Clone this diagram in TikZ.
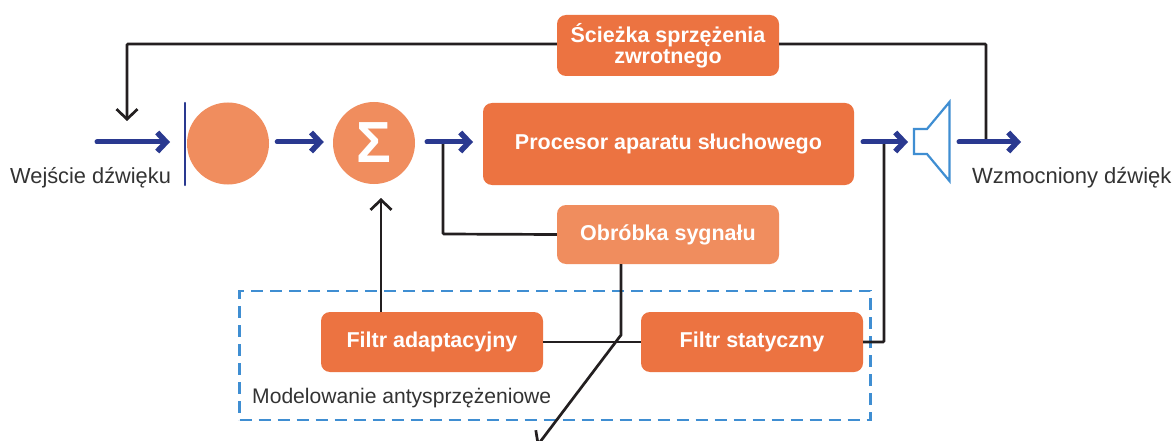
\documentclass[tikz,border=0pt]{standalone}
\usepackage{fontspec}
\setmainfont{Liberation Sans}
\usetikzlibrary{arrows.meta,calc}
\definecolor{boxor}{HTML}{EC7341}
\definecolor{lightor}{HTML}{F08D5E}
\definecolor{navy}{HTML}{2A3990}
\definecolor{dashblue}{HTML}{3F8ED2}
\definecolor{ink}{HTML}{231F20}
\definecolor{labelgrey}{HTML}{333333}
\tikzset{
  boxbase/.style={rounded corners=9pt,text=white,inner sep=0pt,align=center,font=\fontsize{21.5}{21}\selectfont\bfseries},
  orangebox/.style={boxbase,fill=boxor},
  lightbox/.style={boxbase,fill=lightor},
  roundnode/.style={circle,fill=lightor,minimum size=82pt,inner sep=0pt},
  caption/.style={text=labelgrey,inner sep=0pt},
  bluearrow/.style={draw=navy,line width=5pt,line cap=round,shorten <=2pt,-{Straight Barb[length=9pt,width=19pt,line width=5.5pt]}},
  blackline/.style={draw=ink,line width=2.7pt},
  blackarrow/.style={blackline,-{Straight Barb[length=10pt,width=21pt,line width=2.7pt]}},
}
\begin{document}
\begin{tikzpicture}[x=1pt,y=-1pt]
\clip (0,0) rectangle (1175,441);
\fill[white] (0,0) rectangle (1175,441);
% dashed frame
\node[draw=dashblue,line width=2.7pt,dash pattern=on 12pt off 7pt,minimum width=631pt,minimum height=129pt,inner sep=0pt] (frame) at (555,355.5) {};
% coordinates
\coordinate (inL) at (95,142);
\coordinate (inR) at (170,142);
\coordinate (fbDown) at (127,121);
\coordinate (fbTL) at (127,44);
\coordinate (fbTR) at (986,44);
\coordinate (fbJoin) at (986,141);
\coordinate (sumOut) at (425,142);
\coordinate (procIn) at (473,142);
\coordinate (procOut) at (861,142);
\coordinate (spkIn) at (908,142);
\coordinate (spkOut) at (957,142);
\coordinate (outEnd) at (1021,142);
\coordinate (tapA) at (443,142);
\coordinate (tapACorner) at (443,234);
\coordinate (tapB) at (884,142);
\coordinate (tapBCorner) at (884,342);
\coordinate (sumUp) at (381,198);
\coordinate (filtUp) at (381,312);
\coordinate (obrDown) at (621,264);
\coordinate (kink) at (621,335);
\coordinate (exit) at (537,446);
\coordinate (barTop) at (185,103);
\coordinate (barBot) at (185,185);
% boxes
\node[orangebox,minimum width=222pt,minimum height=61pt] (path) at (668,45.5) {Ścieżka sprzężenia\\zwrotnego};
\node[orangebox,minimum width=371pt,minimum height=82pt] (proc) at (668.5,144) {Procesor aparatu słuchowego};
\node[lightbox,minimum width=222pt,minimum height=59pt] (obr) at (668,234.5) {Obróbka sygnału};
\node[orangebox,minimum width=222pt,minimum height=60pt] (fa) at (432,342) {Filtr adaptacyjny};
\node[orangebox,minimum width=222pt,minimum height=60pt] (fs) at (752,342) {Filtr statyczny};
\node[roundnode] (mic) at (228,143.5) {};
\node[roundnode,text=white,font=\fontsize{58}{58}\selectfont\bfseries] (sum) at (374,143) {Σ};
% speaker
\draw[dashblue,line width=2.2pt,line join=miter] (914,129) -- (927,129) -- (949.5,102) -- (949.5,181) -- (927,154) -- (914,154) -- cycle;
% labels
\node[caption,anchor=west,font=\fontsize{21.8}{22}\selectfont] (lin) at (10,178) {Wejście dźwięku};
\node[caption,anchor=west,font=\fontsize{22}{22}\selectfont] (lout) at (972,178) {Wzmocniony dźwięk};
\node[caption,anchor=west,font=\fontsize{21.1}{22}\selectfont] (lmod) at (252,398) {Modelowanie antysprzężeniowe};
% black connectors
\draw[blackarrow,rounded corners=1pt] (path.west|-fbTL) -- (fbTL) -- (fbDown);
\draw[blackline,rounded corners=1pt] (path.east|-fbTR) -- (fbTR) -- (fbJoin);
\draw[blackline,rounded corners=1pt] (obr.west) -- (tapACorner) -- (tapA);
\draw[blackarrow] (filtUp) -- (sumUp);
\draw[blackline] (fa.east) -- (fs.west);
\draw[blackline,rounded corners=1pt] (fs.east) -- (tapBCorner) -- (tapB);
\draw[blackarrow] (obrDown) -- (kink) -- (exit);
% blue connectors
\draw[navy,line width=2.2pt,line cap=round] (barTop) -- (barBot);
\draw[bluearrow] (inL) -- (inR);
\draw[bluearrow,shorten <=8pt,shorten >=9pt] (mic.east|-inL) -- (sum.west|-inL);
\draw[bluearrow] (sumOut) -- (procIn);
\draw[bluearrow] (procOut) -- (spkIn);
\draw[bluearrow] (spkOut) -- (outEnd);
\end{tikzpicture}
\end{document}
